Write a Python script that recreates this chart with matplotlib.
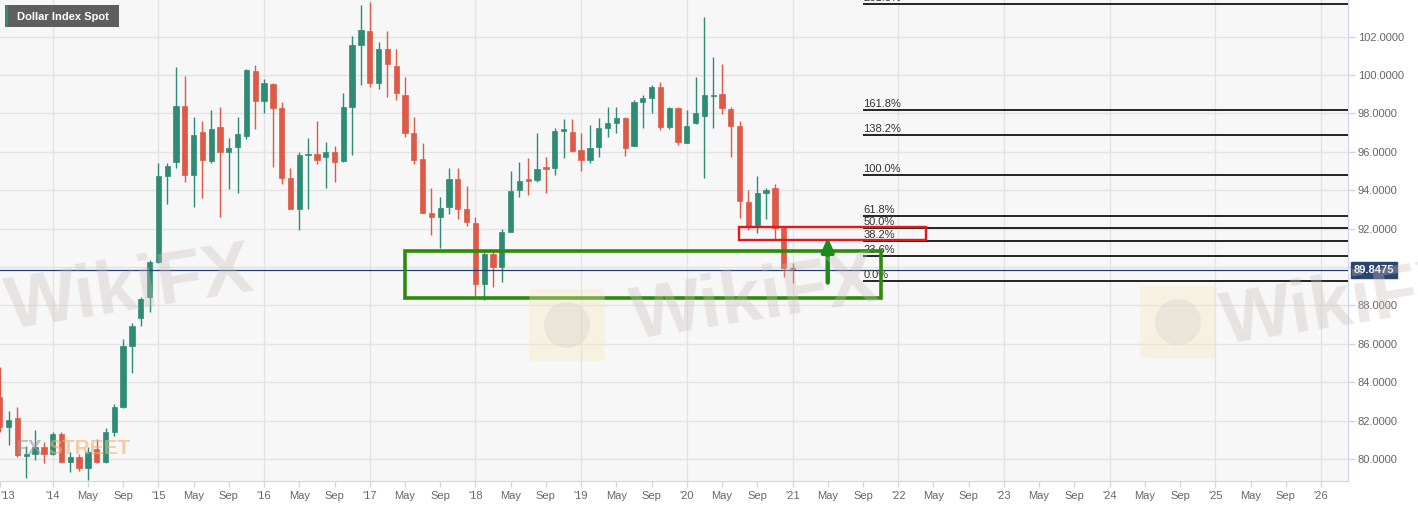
import matplotlib
matplotlib.use("Agg")
import matplotlib.pyplot as plt
from matplotlib.patches import Rectangle, FancyBboxPatch, Ellipse
import matplotlib.transforms as mtransforms

plt.rcParams['font.family'] = ['Liberation Sans', 'DejaVu Sans']

# monthly candles, first one is Jul 2013 (month index 6, counted from Jan 2013)
start_month = 6
opens = [83.23, 81.67, 82.14, 80.15, 80.26, 80.64,
         80.26, 81.30, 79.86, 80.09, 79.55, 80.52, 79.86, 81.42, 82.72, 85.90, 87.33, 88.42,
         90.28, 94.76, 95.49, 98.39, 94.80, 97.05, 95.52, 97.31, 95.97, 96.27, 96.82, 100.22,
         98.67, 99.51, 98.27, 94.62, 93.00, 95.83, 95.89, 95.71, 95.97, 95.52, 98.35, 101.57,
         102.30, 99.57, 101.34, 100.47, 98.96, 96.97, 95.63, 92.80, 92.63, 93.14, 94.57, 93.00,
         92.31, 89.12, 90.68, 90.02, 91.84, 94.01, 94.56, 94.53, 95.17, 95.15, 97.11, 97.05,
         96.10, 95.58, 96.23, 97.23, 97.52, 97.75, 96.31, 98.57, 98.83, 99.36, 97.31, 98.27,
         96.48, 97.49, 97.87, 98.91, 99.02, 98.23, 97.35, 93.41, 92.19, 93.87, 94.10, 92.02,
         89.97]
highs = [84.79, 82.52, 82.72, 80.65, 81.51, 80.90,
         81.42, 81.40, 80.38, 80.24, 80.64, 81.02, 81.60, 82.86, 86.24, 87.10, 88.46, 90.37,
         95.44, 95.44, 100.41, 99.95, 97.83, 97.62, 98.18, 98.32, 96.71, 97.80, 100.32, 100.53,
         99.79, 99.57, 98.58, 95.18, 95.97, 96.71, 97.60, 96.53, 96.31, 99.08, 102.04, 103.65,
         103.82, 101.74, 102.27, 101.34, 99.89, 97.83, 96.48, 94.14, 93.67, 95.15, 95.15, 94.20,
         92.63, 90.77, 90.92, 91.96, 95.02, 95.49, 95.66, 96.97, 95.75, 97.23, 97.71, 97.69,
         96.97, 97.40, 97.75, 98.32, 98.35, 97.83, 98.70, 98.96, 99.48, 99.66, 98.32, 98.32,
         98.18, 99.89, 103.04, 100.93, 100.56, 98.35, 97.62, 94.01, 94.74, 94.14, 94.33, 92.05,
         90.19]
lows = [81.41, 80.73, 80.12, 79.00, 79.95, 79.78,
        80.20, 79.78, 79.31, 79.39, 78.90, 79.78, 79.78, 81.20, 82.64, 84.46, 86.93, 87.64,
        90.20, 93.28, 95.15, 94.42, 93.14, 93.58, 95.40, 92.59, 94.05, 93.84, 96.65, 97.17,
        98.04, 95.23, 94.31, 93.00, 91.93, 93.00, 95.37, 94.11, 94.45, 95.45, 95.83, 99.48,
        99.39, 99.25, 98.87, 98.70, 96.79, 95.37, 92.80, 91.67, 91.01, 92.76, 92.49, 92.14,
        88.46, 88.28, 88.95, 89.24, 91.80, 93.67, 93.75, 94.45, 93.84, 94.80, 95.66, 96.00,
        95.02, 95.41, 95.71, 96.79, 97.00, 95.80, 96.28, 97.23, 98.01, 97.14, 97.18, 96.36,
        96.45, 97.45, 94.62, 97.23, 97.96, 95.75, 92.54, 91.93, 91.76, 92.49, 91.45, 89.50,
        89.19]
closes = [81.67, 82.03, 80.21, 80.25, 80.64, 80.26,
          81.30, 79.83, 80.09, 79.55, 80.38, 79.86, 81.42, 82.72, 85.89, 86.93, 88.32, 90.28,
          94.74, 95.26, 98.39, 94.80, 96.88, 95.58, 97.19, 96.00, 96.21, 96.91, 100.24, 98.67,
          99.57, 98.27, 94.62, 93.02, 95.83, 95.89, 95.58, 95.97, 95.45, 98.35, 101.57, 102.35,
          99.57, 101.34, 100.56, 99.08, 97.00, 95.60, 92.83, 92.63, 93.06, 94.57, 93.00, 92.33,
          89.12, 90.68, 89.99, 91.84, 93.98, 94.50, 94.50, 95.09, 95.13, 97.11, 97.17, 96.06,
          95.58, 96.19, 97.23, 97.52, 97.75, 96.21, 98.57, 98.83, 99.36, 97.31, 98.27, 96.53,
          97.35, 98.04, 98.96, 98.98, 98.30, 97.37, 93.44, 92.14, 93.84, 94.01, 92.05, 89.93,
          89.88]

last_price = 89.8475

# fibonacci levels
fib_low = 89.25
fib_high = 94.77
fib_ratios = [0.0, 0.236, 0.382, 0.5, 0.618, 1.0, 1.382, 1.618, 2.618]
fib_labels = ['0.0%', '23.6%', '38.2%', '50.0%', '61.8%', '100.0%', '138.2%', '161.8%', '261.8%']
fib_start = 104.0

# zones (month index, price)
green_zone = (51.96, 106.07, 88.37, 90.85)
red_zone = (89.95, 111.1, 91.41, 92.10)
arrow_month, arrow_from, arrow_to = 100.0, 89.19, 91.55

GREEN = '#2e8b74'
RED = '#de5a47'

fig = plt.figure(figsize=(14.18, 5.07), dpi=100)
fig.patch.set_facecolor('white')
ax = fig.add_axes([0, 26 / 507, 1348 / 1418, 481 / 507])
ax.set_facecolor('#f7f7f7')

x0, x1 = 6.02, 159.07
ax.set_xlim(x0, x1)
ax.set_ylim(78.85, 103.91)

# grid
yt = list(range(80, 103, 2))
for y in yt:
    ax.axhline(y, color='#e3e3e3', lw=1, zorder=0)
for yr in range(2014, 2027):
    ax.axvline((yr - 2013) * 12, color='#e3e3e3', lw=1, zorder=0)

# candles
for i, (o, h, l, c) in enumerate(zip(opens, highs, lows, closes)):
    m = start_month + i
    col = GREEN if c >= o else RED
    ax.vlines(m, l, h, color=col, lw=1, zorder=2)
    bot = min(o, c)
    ht = max(abs(c - o), 0.06)
    ax.add_patch(Rectangle((m - 0.3, bot), 0.6, ht, facecolor=col, edgecolor=col,
                           lw=0.5, zorder=3))

# current price line
ax.axhline(last_price, color='#23406e', lw=0.9, zorder=4)

# fib lines
rng = fib_high - fib_low
for r, lab in zip(fib_ratios, fib_labels):
    lvl = fib_low + r * rng
    ax.hlines(lvl, fib_start, x1, color='black', lw=1.2, zorder=4)
    ax.text(fib_start + 0.05, lvl + 0.06, lab, fontsize=8, color='#333333',
            ha='left', va='bottom', zorder=5)

# zones
gx0, gx1, gy0, gy1 = green_zone
ax.add_patch(Rectangle((gx0, gy0), gx1 - gx0, gy1 - gy0, fill=False,
                       edgecolor='#2f8a0c', lw=2.6, zorder=6))
rx0, rx1, ry0, ry1 = red_zone
ax.add_patch(Rectangle((rx0, ry0), rx1 - rx0, ry1 - ry0, fill=False,
                       edgecolor='#e3161b', lw=1.7, zorder=6))
ax.annotate('', xy=(arrow_month, arrow_to), xytext=(arrow_month, arrow_from),
            arrowprops=dict(arrowstyle='-|>,head_width=0.35,head_length=0.8',
                            color='#1a8c1a', lw=3.2, shrinkA=0, shrinkB=0),
            zorder=7)

# axes styling
for s in ['top', 'left']:
    ax.spines[s].set_visible(False)
ax.spines['bottom'].set_color('#ccd6eb')
ax.spines['right'].set_color('#ccd6eb')
ax.yaxis.tick_right()
ax.set_yticks(yt)
ax.set_yticklabels(['%.4f' % v for v in yt])
ax.tick_params(axis='y', colors='#ccd6eb', labelcolor='#666666', labelsize=8,
               length=5, width=1, pad=2)

xt = [x0]
xl = ["'13"]
for yr in range(2014, 2027):
    base = (yr - 2013) * 12
    for k, name in [(0, "'%02d" % (yr % 100)), (4, 'May'), (8, 'Sep')]:
        if base + k <= x1:
            xt.append(base + k)
            xl.append(name)
ax.set_xticks(xt)
ax.set_xticklabels(xl)
ax.tick_params(axis='x', colors='#ccd6eb', labelcolor='#666666', labelsize=8,
               length=4, width=1, pad=3)
ax.get_xticklabels()[0].set_ha('left')

# last price tag
trans = mtransforms.blended_transform_factory(ax.transAxes, ax.transData)
ax.text(1.004, last_price, '89.8475', transform=trans, fontsize=8, fontweight='bold',
        color='white', ha='left', va='center', clip_on=False, zorder=10,
        bbox=dict(boxstyle='square,pad=0.25', facecolor='#2b4470', edgecolor='#2b4470'))

# title box
fig.patches.append(Rectangle((5 / 1418, 1 - 27 / 507), 114 / 1418, 22 / 507,
                             transform=fig.transFigure, facecolor='#5e5e5e',
                             edgecolor='none', zorder=10))
fig.patches.append(Rectangle((5 / 1418, 1 - 27 / 507), 2.5 / 1418, 22 / 507,
                             transform=fig.transFigure, facecolor=GREEN,
                             edgecolor='none', zorder=11))
fig.text(17 / 1418, 1 - 16.5 / 507, 'Dollar Index Spot', color='white', fontsize=8,
         fontweight='bold', ha='left', va='center', zorder=12)

# watermarks
for (px, py) in [(130, 290), (755, 300), (1345, 305)]:
    fig.text(px / 1418, 1 - py / 507, 'WikiFX', fontsize=54, fontweight='bold',
             color='#c9bfbb', alpha=0.35, rotation=9, ha='center', va='center', zorder=1)
for (px, py) in [(567, 325), (1178, 322)]:
    fig.patches.append(FancyBboxPatch(((px - 32) / 1418, 1 - (py + 34) / 507), 64 / 1418, 68 / 507,
                                      boxstyle='round,pad=0.004', transform=fig.transFigure,
                                      facecolor='#f6e6b8', edgecolor='none', alpha=0.35, zorder=1))
    fig.patches.append(Ellipse((px / 1418, 1 - py / 507), 46 / 1418, 46 / 507,
                               transform=fig.transFigure, facecolor='#cfc7c7',
                               edgecolor='none', alpha=0.3, zorder=1))
fig.text(16 / 1418, 1 - 448 / 507, 'FX', fontsize=15, fontweight='bold', color='#9a9a9a',
         family=['Liberation Sans Narrow', 'Liberation Sans'],
         alpha=0.6, ha='left', va='center', zorder=8)
fig.text(48 / 1418, 1 - 448 / 507, 'STREET', fontsize=15, fontweight='bold', color='#f0b070',
         family=['Liberation Sans Narrow', 'Liberation Sans'],
         alpha=0.6, ha='left', va='center', zorder=8)

fig.savefig('out.png', dpi=100)
